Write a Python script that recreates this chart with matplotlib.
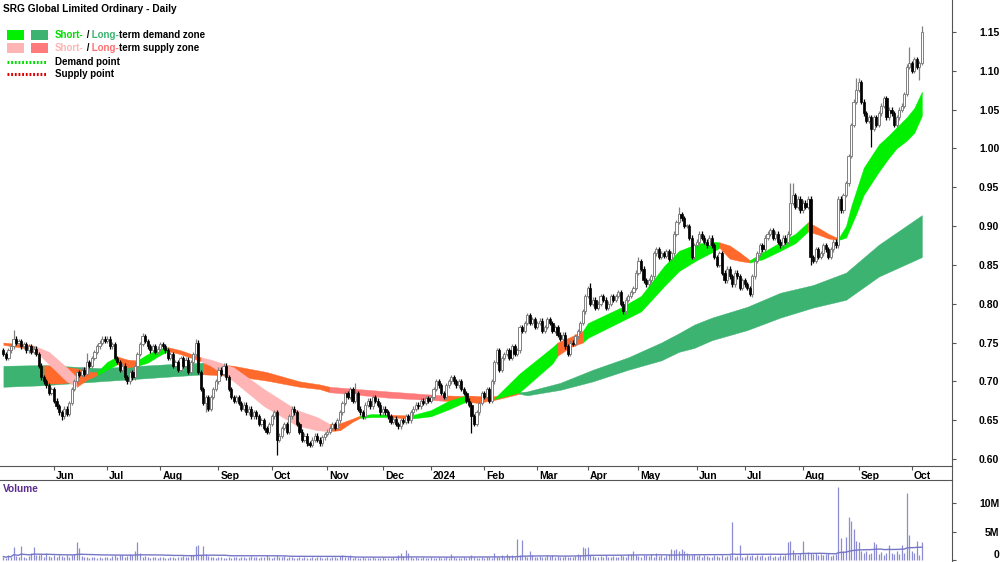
import numpy as np
import pandas as pd
import matplotlib
matplotlib.use("Agg")
import matplotlib.pyplot as plt
from matplotlib.patches import Rectangle
from matplotlib.transforms import ScaledTranslation

plt.rcParams['font.family'] = ['Liberation Sans', 'DejaVu Sans']
plt.rcParams['font.weight'] = 'bold'

# ASX holidays inside the period
asx_holidays = ['2023-06-12', '2023-12-25', '2023-12-26', '2024-01-01', '2024-01-26',
                '2024-03-29', '2024-04-01', '2024-04-25', '2024-06-10']

# daily closes (May 2023 - Oct 2024)
closes = [
    0.735, 0.73, 0.74, 0.745, 0.755, 0.75, 0.752, 0.745, 0.748, 0.74,
    0.745, 0.738, 0.742, 0.735, 0.72, 0.705, 0.70, 0.695, 0.685, 0.69,
    0.675, 0.668, 0.66, 0.655, 0.665, 0.658, 0.672, 0.69, 0.70, 0.712,
    0.708, 0.715, 0.71, 0.725, 0.72, 0.73, 0.738, 0.745, 0.75, 0.755,
    0.752, 0.755, 0.745, 0.748, 0.73, 0.725, 0.715, 0.72, 0.705, 0.70,
    0.712, 0.705, 0.72, 0.735, 0.748, 0.758, 0.752, 0.745, 0.74, 0.745,
    0.738, 0.742, 0.748, 0.745, 0.74, 0.73, 0.735, 0.72, 0.725, 0.715,
    0.73, 0.72, 0.728, 0.712, 0.725, 0.735, 0.75, 0.712, 0.69, 0.672,
    0.68, 0.665, 0.68, 0.69, 0.70, 0.715, 0.71, 0.72, 0.705, 0.69,
    0.68, 0.675, 0.68, 0.672, 0.665, 0.67, 0.66, 0.665, 0.655, 0.66,
    0.655, 0.645, 0.65, 0.64, 0.635, 0.645, 0.655, 0.66, 0.625, 0.63,
    0.64, 0.645, 0.635, 0.655, 0.665, 0.66, 0.645, 0.635, 0.625, 0.63,
    0.62, 0.618, 0.625, 0.63, 0.625, 0.62, 0.628, 0.632, 0.635, 0.64,
    0.645, 0.64, 0.65, 0.66, 0.672, 0.685, 0.68, 0.69, 0.675, 0.685,
    0.665, 0.66, 0.655, 0.67, 0.675, 0.668, 0.68, 0.675, 0.67, 0.66,
    0.665, 0.66, 0.655, 0.648, 0.652, 0.645, 0.642, 0.65, 0.648, 0.655,
    0.65, 0.66, 0.665, 0.67, 0.668, 0.675, 0.672, 0.678, 0.675, 0.68,
    0.69, 0.70, 0.695, 0.685, 0.68, 0.695, 0.70, 0.705, 0.70, 0.695,
    0.70, 0.69, 0.685, 0.675, 0.67, 0.655, 0.645, 0.66, 0.672, 0.685,
    0.68, 0.69, 0.675, 0.70, 0.725, 0.74, 0.715, 0.73, 0.735, 0.74,
    0.73, 0.745, 0.735, 0.74, 0.77, 0.765, 0.775, 0.785, 0.775, 0.78,
    0.77, 0.775, 0.778, 0.765, 0.77, 0.78, 0.775, 0.765, 0.77, 0.76,
    0.755, 0.76, 0.745, 0.735, 0.75, 0.748, 0.758, 0.765, 0.775, 0.79,
    0.81, 0.82, 0.80, 0.805, 0.795, 0.80, 0.81, 0.805, 0.795, 0.80,
    0.81, 0.805, 0.81, 0.815, 0.80, 0.79, 0.805, 0.81, 0.815, 0.82,
    0.84, 0.855, 0.845, 0.83, 0.825, 0.83, 0.835, 0.865, 0.87, 0.86,
    0.865, 0.862, 0.868, 0.858, 0.865, 0.89, 0.905, 0.915, 0.91, 0.90,
    0.90, 0.885, 0.86, 0.875, 0.88, 0.89, 0.885, 0.88, 0.875, 0.885,
    0.875, 0.86, 0.85, 0.865, 0.84, 0.83, 0.845, 0.835, 0.825, 0.84,
    0.835, 0.82, 0.83, 0.825, 0.82, 0.812, 0.835, 0.855, 0.865, 0.875,
    0.87, 0.885, 0.89, 0.895, 0.885, 0.89, 0.88, 0.875, 0.885, 0.88,
    0.89, 0.93, 0.94, 0.925, 0.935, 0.92, 0.93, 0.925, 0.935, 0.86,
    0.855, 0.87, 0.86, 0.865, 0.875, 0.87, 0.86, 0.87, 0.88, 0.875,
    0.935, 0.92, 0.94, 0.955, 0.99, 1.03, 1.06, 1.075, 1.085, 1.06,
    1.045, 1.035, 1.04, 1.025, 1.04, 1.03, 1.045, 1.055, 1.065, 1.04,
    1.05, 1.045, 1.03, 1.04, 1.05, 1.055, 1.07, 1.105, 1.11, 1.10,
    1.115, 1.105, 1.11, 1.15,
]
first_open = 0.74

# bars with long wicks
high_marks = {4: 0.766, 33: 0.737, 55: 0.762, 76: 0.755, 137: 0.693, 139: 0.698,
              232: 0.827, 251: 0.86, 267: 0.925, 311: 0.955, 312: 0.955,
              337: 1.09, 338: 1.09, 358: 1.13, 363: 1.158}
low_marks = {23: 0.65, 80: 0.66, 108: 0.605, 185: 0.634, 295: 0.81, 319: 0.85,
             343: 1.002, 362: 1.088}

# daily volume in millions
volume = [
    0.6, 0.4, 0.8, 0.5, 2.3, 0.7, 0.5, 2.5, 0.6, 0.4, 0.7, 1.2, 2.3, 0.8, 0.9, 1.0, 0.6, 1.3, 0.7, 0.5,
    0.8, 0.6, 0.9, 0.7, 0.5, 0.8, 0.6, 0.9, 1.1, 3.1, 2.1, 0.7, 0.5, 0.6, 0.4, 0.5, 0.6, 0.3, 0.5, 0.4,
    0.6, 0.5, 0.4, 0.7, 0.8, 0.6, 0.9, 0.8, 0.5, 0.7, 1.0, 0.9, 1.5, 3.1, 1.2, 0.6, 0.7, 0.5, 0.4, 0.6,
    0.5, 0.4, 0.6, 0.5, 0.3, 0.4, 0.5, 0.6, 0.4, 0.5, 0.6, 0.7, 0.5, 0.6, 0.8, 0.9, 2.5, 2.6, 0.9, 2.5,
    1.0, 0.7, 0.6, 0.5, 0.4, 0.6, 0.5, 0.4, 0.3, 0.5, 0.4, 0.6, 0.5, 0.4, 0.5, 0.6, 0.4, 0.5, 0.7, 0.6,
    0.5, 0.4, 0.6, 0.5, 0.8, 0.6, 0.4, 0.5, 0.9, 0.6, 0.5, 0.7, 0.4, 0.5, 0.6, 0.4, 0.3, 0.5, 0.4, 0.5,
    0.4, 0.3, 0.5, 0.4, 0.6, 0.5, 0.4, 0.3, 0.5, 0.4, 0.6, 0.5, 0.4, 0.7, 0.9, 0.6, 0.5, 0.8, 0.4, 0.5,
    0.4, 0.3, 0.5, 0.4, 0.3, 0.4, 0.5, 0.3, 0.4, 0.3, 0.5, 0.4, 0.3, 0.4, 0.5, 0.4, 0.9, 1.2, 0.7, 1.8,
    1.2, 0.6, 0.4, 0.5, 0.3, 0.4, 0.5, 0.3, 0.4, 0.5, 0.4, 0.3, 0.5, 0.4, 0.3, 0.5, 0.4, 1.1, 0.5, 0.4,
    0.3, 0.4, 0.5, 0.4, 0.6, 0.9, 0.5, 0.4, 0.3, 0.5, 0.4, 0.6, 0.5, 0.4, 1.2, 0.6, 0.5, 0.8, 0.6, 1.0,
    0.7, 0.9, 0.6, 3.7, 0.8, 3.5, 0.7, 0.6, 1.6, 0.8, 0.5, 0.6, 0.7, 0.5, 0.6, 0.8, 0.7, 0.9, 0.6, 0.7,
    0.6, 0.5, 0.7, 0.6, 0.5, 0.6, 0.7, 1.0, 0.8, 2.2, 2.1, 2.3, 0.9, 0.7, 0.6, 0.5, 0.7, 0.6, 0.8, 0.5,
    0.6, 0.7, 0.5, 0.6, 0.8, 0.7, 0.6, 1.1, 1.0, 1.5, 0.8, 0.7, 0.6, 0.9, 0.8, 0.7, 1.0, 0.6, 1.3, 0.7,
    0.8, 0.6, 0.9, 1.0, 2.0, 1.8, 2.0, 1.6, 1.9, 1.5, 1.2, 0.9, 0.8, 1.1, 0.7, 0.9, 0.6, 0.8, 0.7, 0.5,
    0.6, 0.8, 0.7, 0.5, 0.9, 0.6, 0.7, 0.8, 6.6, 0.6, 0.7, 2.6, 0.5, 0.6, 0.8, 0.7, 0.9, 0.6, 0.8, 0.7,
    0.9, 0.6, 0.7, 0.8, 0.6, 0.7, 0.5, 0.8, 0.7, 0.9, 3.1, 3.3, 1.8, 1.1, 0.9, 1.2, 3.3, 1.0, 1.4, 1.2,
    1.0, 1.2, 0.9, 1.1, 0.8, 1.0, 1.3, 0.7, 0.9, 1.0, 12.8, 3.8, 1.5, 4.1, 7.5, 6.9, 5.4, 3.4, 3.1, 1.6,
    1.2, 1.5, 1.0, 1.3, 3.2, 2.8, 1.1, 1.4, 0.9, 1.3, 2.6, 1.2, 1.0, 1.5, 1.1, 2.6, 1.3, 11.8, 4.4, 1.6,
    1.2, 3.4, 0.9, 3.1,
]

# long-term zone, sampled at bar positions
lt_idx = [0, 16, 38, 65, 79, 91, 104, 117, 125, 129, 152, 169, 174, 183, 194, 204, 207,
          220, 233, 247, 260, 267, 273, 280, 294, 307, 320, 333, 346, 363]
lt_upper = [0.72, 0.721, 0.717, 0.722, 0.724, 0.72, 0.712, 0.70, 0.696, 0.693, 0.687, 0.683,
            0.682, 0.681, 0.681, 0.686, 0.687, 0.698, 0.715, 0.731, 0.75, 0.762, 0.773, 0.782,
            0.796, 0.814, 0.824, 0.84, 0.876, 0.914]
lt_lower = [0.693, 0.695, 0.70, 0.706, 0.709, 0.707, 0.701, 0.693, 0.69, 0.686, 0.679, 0.676,
            0.675, 0.674, 0.676, 0.684, 0.682, 0.689, 0.70, 0.715, 0.727, 0.738, 0.743, 0.753,
            0.766, 0.782, 0.795, 0.805, 0.835, 0.86]
lt_state = ['LD'] * 4 + ['OR'] * 5 + ['LS'] * 3 + ['OR'] * 3 + ['LD'] * 14

# short-term zone
st_idx = [0, 12, 18, 25, 29, 33, 37, 41, 45, 49, 53, 57, 61, 65, 70, 78, 82, 91, 103, 116,
          124, 129, 133, 138, 141, 146, 152, 161, 169, 176, 183, 188, 194, 204, 217, 219,
          224, 229, 231, 244, 252, 261, 267, 274, 280, 283, 287, 291, 295, 300, 307, 313,
          318, 322, 326, 330, 333, 335, 337, 340, 346, 350, 353, 357, 360, 363]
st_upper = [0.75, 0.746, 0.738, 0.718, 0.705, 0.712, 0.712, 0.725, 0.732, 0.728, 0.727, 0.735,
            0.741, 0.744, 0.74, 0.731, 0.728, 0.718, 0.69, 0.663, 0.654, 0.645, 0.646, 0.652,
            0.656, 0.658, 0.657, 0.656, 0.663, 0.675, 0.682, 0.68, 0.678, 0.71, 0.744, 0.75,
            0.757, 0.765, 0.775, 0.795, 0.81, 0.848, 0.868, 0.877, 0.88, 0.879, 0.875, 0.866,
            0.856, 0.866, 0.879, 0.89, 0.905, 0.898, 0.89, 0.884, 0.90, 0.925, 0.945, 0.975,
            1.005, 1.017, 1.027, 1.04, 1.052, 1.073]
st_lower = [0.747, 0.741, 0.722, 0.70, 0.693, 0.702, 0.708, 0.715, 0.722, 0.718, 0.72, 0.724,
            0.732, 0.739, 0.735, 0.726, 0.72, 0.70, 0.668, 0.643, 0.637, 0.636, 0.637, 0.648,
            0.653, 0.654, 0.654, 0.652, 0.655, 0.664, 0.674, 0.672, 0.677, 0.686, 0.723, 0.733,
            0.744, 0.75, 0.756, 0.777, 0.79, 0.822, 0.842, 0.856, 0.866, 0.872, 0.858, 0.855,
            0.853, 0.857, 0.868, 0.878, 0.893, 0.889, 0.884, 0.882, 0.885, 0.90, 0.915, 0.94,
            0.97, 0.988, 1.0, 1.01, 1.02, 1.042]
st_state = (['OR'] + ['PK'] * 3 + ['OR'] * 2 + ['SD'] * 2 + ['OR'] * 2 + ['SD'] * 3 +
            ['OR'] * 2 + ['PK'] * 6 + ['OR'] * 3 + ['SD'] * 2 + ['OR'] + ['SD'] * 3 +
            ['OR'] * 2 + ['SD'] * 3 + ['OR'] * 2 + ['SD'] * 8 + ['OR'] * 3 + ['SD'] * 4 +
            ['OR'] * 3 + ['SD'] * 10)

# orange piece under the June 2023 pink ribbon
ov_idx = [16, 22, 29, 33]
ov_upper = [0.721, 0.72, 0.717, 0.713]
ov_lower = [0.697, 0.697, 0.699, 0.703]

zone_colors = {'SD': '#00f000', 'LD': '#3cb371', 'PK': '#ffb5b5',
               'LS': '#ff7a7a', 'OR': '#ff6a2c'}

n = len(closes)
dates = pd.bdate_range('2023-05-04', periods=n, freq='C', holidays=asx_holidays)
x = np.arange(n)
c = np.array(closes)
o = np.concatenate([[first_open], c[:-1]])
hi = np.maximum(o, c) + 0.003
lo = np.minimum(o, c) - 0.003
for k, v in high_marks.items():
    hi[k] = v
for k, v in low_marks.items():
    lo[k] = v
vol = np.array(volume)
vol_ma = pd.Series(vol).rolling(60, min_periods=1).mean()

fig = plt.figure(figsize=(10, 5.62), dpi=100)
W, H = 1000, 562
ax = fig.add_axes([0, 1 - 466 / H, 952 / W, 466 / H])
axv = fig.add_axes([0, 0, 952 / W, 82 / H])
xlim = (-1.34, 374.9)


def draw_zone(idx, up, low, states, z):
    idx = np.array(idx)
    up = np.array(up)
    low = np.array(low)
    start = 0
    for k in range(1, len(states) + 1):
        if k == len(states) or states[k] != states[start]:
            sl = slice(start, k + 1)
            col = zone_colors[states[start]]
            ax.fill_between(idx[sl], up[sl], low[sl], color=col, lw=0.3, ec=col, zorder=z)
            start = k


draw_zone(lt_idx, lt_upper, lt_lower, lt_state, 1)
ax.fill_between(ov_idx, ov_upper, ov_lower, color=zone_colors['OR'], lw=0, zorder=1.5)
draw_zone(st_idx, st_upper, st_lower, st_state, 2)

# candles
up = c >= o
grey = '#808080'
ax.vlines(x[up], lo[up], hi[up], color=grey, lw=0.9, zorder=3)
ax.vlines(x[~up], lo[~up], hi[~up], color='black', lw=0.9, zorder=3)
ax.bar(x[up], np.maximum(c - o, 0.0015)[up], bottom=o[up], width=0.85,
       facecolor='white', edgecolor=grey, lw=0.7, zorder=4)
ax.bar(x[~up], (o - c)[~up], bottom=c[~up], width=0.85,
       facecolor='black', edgecolor='black', lw=0.5, zorder=4)

ax.set_xlim(*xlim)
ax.set_ylim(0.591, 1.191)
ax.set_yticks(np.arange(0.60, 1.1501, 0.05))
ax.yaxis.set_major_formatter(plt.FormatStrFormatter('%.2f'))
ax.yaxis.tick_right()
ax.tick_params(axis='y', length=3, pad=31, labelsize=7.5, color='#555555')
for lbl in ax.get_yticklabels():
    lbl.set_horizontalalignment('right')

month_start = [i for i in range(1, n) if dates[i].month != dates[i - 1].month]
month_lbl = ['2024' if dates[i].month == 1 else dates[i].strftime('%b') for i in month_start]
ax.set_xticks(month_start)
ax.set_xticklabels(month_lbl)
ax.tick_params(axis='x', length=3, pad=0.5, labelsize=7.5, color='#555555')
shift = ScaledTranslation(2 / 100, 0, fig.dpi_scale_trans)
for lbl in ax.get_xticklabels():
    lbl.set_horizontalalignment('left')
    lbl.set_transform(lbl.get_transform() + shift)

for s in ['left', 'top']:
    ax.spines[s].set_visible(False)
for s in ['right', 'bottom']:
    ax.spines[s].set_color('#555555')
    ax.spines[s].set_linewidth(0.8)

# volume panel
axv.vlines(x, 0, vol, color='#8c8cd4', lw=0.9)
axv.plot(x, vol_ma, color='#7676c6', lw=1)
axv.set_xlim(*xlim)
axv.set_ylim(-0.35, 14.04)
axv.set_xticks([])
axv.set_yticks([0, 5, 10])
axv.set_yticklabels(['0', '5M', '10M'])
axv.yaxis.tick_right()
axv.tick_params(axis='y', length=3, pad=31, labelsize=7.5, color='#555555')
for lbl in axv.get_yticklabels():
    lbl.set_horizontalalignment('right')
axv.get_yticklabels()[0].set_verticalalignment('bottom')
for s in ['left', 'bottom']:
    axv.spines[s].set_visible(False)
for s in ['right', 'top']:
    axv.spines[s].set_color('#555555')
    axv.spines[s].set_linewidth(0.8)

# title, legend and the joins, in pixel coordinates
ov = fig.add_axes([0, 0, 1, 1])
ov.set_xlim(0, W)
ov.set_ylim(H, 0)
ov.axis('off')
ov.plot([952, 952], [466, 480], color='#555555', lw=0.8)

ov.text(3, 9, 'SRG Global Limited Ordinary - Daily', fontsize=7.3, fontweight='bold',
        va='center', ha='left', color='black')
ov.text(3, 489, 'Volume', fontsize=7.3, fontweight='bold', va='center', ha='left',
        color='#5b2c8f')

ov.add_patch(Rectangle((7, 30), 17, 10, color=zone_colors['SD'], lw=0))
ov.add_patch(Rectangle((31, 30), 17, 10, color=zone_colors['LD'], lw=0))
ov.add_patch(Rectangle((7, 43), 17, 10, color=zone_colors['PK'], lw=0))
ov.add_patch(Rectangle((31, 43), 17, 10, color=zone_colors['LS'], lw=0))
ov.plot([7, 46], [62, 62], color='#00e000', lw=2.2, linestyle=(0, (0.6, 0.6)))
ov.plot([7, 46], [74, 74], color='#e00000', lw=2.2, linestyle=(0, (0.6, 0.6)))

renderer = fig.canvas.get_renderer()


def color_text(x0, y, parts):
    xpos = x0
    for txt, col in parts:
        t = ov.text(xpos, y, txt, color=col, fontsize=7.0, fontweight='bold',
                    va='center', ha='left')
        xpos += t.get_window_extent(renderer=renderer).width


color_text(55, 35, [('Short-', '#00e000'), (' /', 'black'), (' Long-', '#3cb371'),
                    ('term demand zone', 'black')])
color_text(55, 48, [('Short-', '#ffb5b5'), (' /', 'black'), (' Long-', '#ff7070'),
                    ('term supply zone', 'black')])
ov.text(55, 62, 'Demand point', fontsize=7.0, fontweight='bold', va='center', ha='left')
ov.text(55, 74, 'Supply point', fontsize=7.0, fontweight='bold', va='center', ha='left')

fig.savefig('out.png', dpi=100)
